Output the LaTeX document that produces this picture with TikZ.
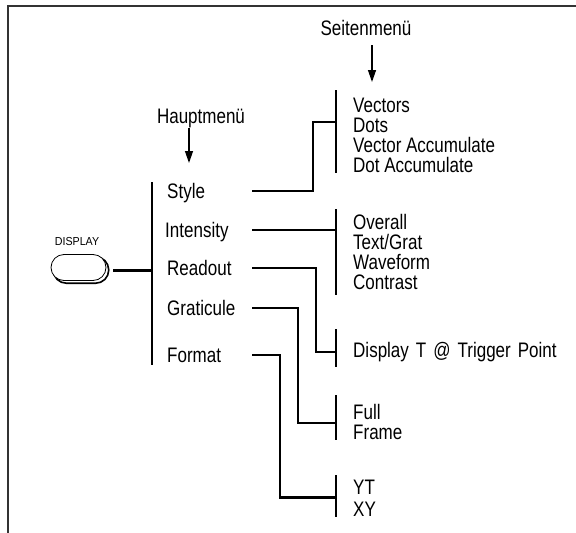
\documentclass[tikz,border=0pt]{standalone}
\usepackage{fontspec}
\setmainfont{Liberation Sans}[FakeStretch=0.81]
\newfontfamily\keyfont{Liberation Sans}[FakeStretch=0.92]
\usetikzlibrary{arrows.meta,calc}
\tikzset{
  frame/.style={line width=1.8pt, draw=black!80},
  wire/.style={line width=2.4pt},
  bar/.style={line width=2.6pt},
  pointer/.style={-{Triangle[length=12pt,width=8pt]}, line width=1.3pt},
  item/.style={anchor=west, inner sep=0pt, text height=15pt, text depth=0pt,
               font=\fontsize{21}{24}\selectfont},
  sub/.style={anchor=north west, inner sep=0pt, align=left,
              font=\fontsize{21}{19.7}\selectfont},
  head/.style={inner sep=0pt, text height=15pt, text depth=0pt,
               font=\fontsize{21}{24}\selectfont},
  btn/.style={draw, fill=white, rounded corners=13pt, minimum width=55pt,
              minimum height=26pt, inner sep=0pt},
}
\begin{document}
\begin{tikzpicture}[x=1pt,y=-1pt]
  \useasboundingbox (0,0) rectangle (576,533);
  \draw[frame] (8,533) -- (8,6) -- (576,6);

  % ---------------------------------------------------------- headings
  \node[head] (seit) at (366,27.5) {Seitenmenü};
  \node[head] (haupt) at (201,116) {Hauptmenü};
  \coordinate (seitTip) at (372,82);
  \coordinate (hauptTip) at (189,163);
  \draw[pointer, shorten <=10pt] (seit.south -| seitTip) -- (seitTip);
  \draw[pointer, shorten <=4pt] (haupt.south -| hauptTip) -- (hauptTip);

  % ---------------------------------------------------------- button
  \node[btn, draw=none, fill=none] (btn) at (78.5,267.5) {};
  \draw[line width=1.6pt, rounded corners=13pt]
    ($(btn.south west)+(2.5,2.5)$) rectangle ($(btn.north east)+(2.5,2.5)$);
  \node[btn, line width=0.8pt] at (btn) {};
  \node[font=\keyfont\fontsize{11.6}{12}\selectfont, inner sep=0pt] (lbl) at (77,242) {DISPLAY};

  % ---------------------------------------------------------- main menu
  \coordinate (mtop) at (152,182);
  \coordinate (mbot) at (152,365);
  \draw[bar] (mtop) -- (mbot);
  \draw[wire, shorten <=7pt] ($(btn.east)+(0,3)$) -- ($(btn.east -| mtop)+(0,3)$);

  \node[item] (sty) at (167,191) {Style};
  \node[item] (int) at (165,230) {Intensity};
  \node[item] (rd)  at (167,268) {Readout};
  \node[item] (gr)  at (167,308) {Graticule};
  \node[item] (fm)  at (167,355) {Format};

  % ---------------------------------------------------------- side menus
  \coordinate (stub) at (252,0);
  \coordinate (sx) at (336,0);

  \node[sub] (vec)  at (353,98.3) {Vectors\\ Dots\\ Vector Accumulate\\ Dot Accumulate};
  \node[sub] (ints) at (353,214.5) {Overall\\ Text/Grat\\ Waveform\\ Contrast};
  \node[sub] (trig) at (353,342.5) {\spaceskip=7pt Display T @ Trigger Point};
  \node[sub] (grat) at (353,404.5) {Full\\ Frame};
  \node[sub] (fmt)  at (353,479.5) {YT\\[3pt] XY};

  \draw[bar] ($(vec.north west -| sx)+(0,-8.3)$) -- ++(0,83);
  \draw[bar] ($(ints.north west -| sx)+(0,-5.5)$) -- ++(0,86);
  \draw[bar] ($(trig.north west -| sx)+(0,-13.5)$) -- ++(0,38);
  \draw[bar] ($(grat.north west -| sx)+(0,-9.5)$) -- ++(0,45);
  \draw[bar] ($(fmt.north west -| sx)+(0,-4.5)$) -- ++(0,42);

  % connectors from the main menu into the side menus
  \draw[wire] (sty.west -| stub) -- ++(61,0) |- ($(vec.north west -| sx)+(0,23.7)$);
  \draw[wire] (int.west -| stub) -- (int.west -| sx);
  \draw[wire] (rd.west -| stub) -- ++(64,0) |- ($(trig.north west -| sx)+(0,9.5)$);
  \draw[wire] (gr.west -| stub) -- ++(46,0) |- ($(grat.north west -| sx)+(0,18.5)$);
  \draw[wire] (fm.west -| stub) -- ++(28,0) |- ($(fmt.north west -| sx)+(0,18)$);
\end{tikzpicture}
\end{document}
